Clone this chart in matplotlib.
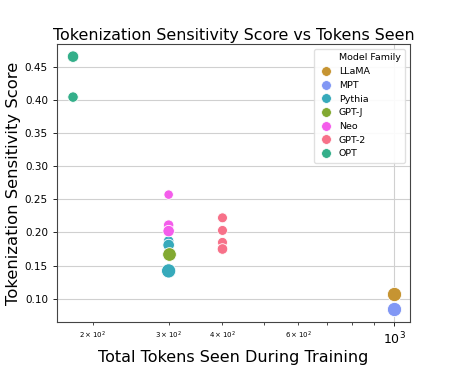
import matplotlib
matplotlib.use("Agg")
import matplotlib.pyplot as plt
from matplotlib.lines import Line2D
import seaborn as sns

families = ["LLaMA", "MPT", "Pythia", "GPT-J", "Neo", "GPT-2", "OPT"]
tokens = {
    "LLaMA": [1000],
    "MPT": [1000],
    "Pythia": [300, 300, 300, 300],
    "GPT-J": [300],
    "Neo": [300, 300, 300],
    "GPT-2": [400, 400, 400, 400],
    "OPT": [180, 180],
}
scores = {
    "LLaMA": [0.107],
    "MPT": [0.084],
    "Pythia": [0.187, 0.181, 0.139, 0.142],
    "GPT-J": [0.168],
    "Neo": [0.257, 0.211, 0.202],
    "GPT-2": [0.222, 0.203, 0.185, 0.175],
    "OPT": [0.465, 0.404],
}
# model size in billions of parameters, drives marker size
params_b = {
    "LLaMA": [7],
    "MPT": [7],
    "Pythia": [1.4, 2.8, 0.4, 12],
    "GPT-J": [6],
    "Neo": [0.125, 1.3, 2.7],
    "GPT-2": [0.7, 0.7, 0.7, 1.5],
    "OPT": [2.7, 1.3],
}

husl = sns.color_palette("husl", 7).as_hex()
colors = {
    "GPT-2": husl[0],
    "LLaMA": husl[1],
    "GPT-J": husl[2],
    "OPT": husl[3],
    "Pythia": husl[4],
    "MPT": husl[5],
    "Neo": husl[6],
}


def size_of(p):
    return 45 + 60 * min(p, 7) / 7


fig = plt.figure(figsize=(4.57, 3.66), dpi=100)
ax = fig.add_axes([0.1247, 0.1202, 0.7725, 0.7596])
for fam in families:
    ax.scatter(tokens[fam], scores[fam],
               s=[size_of(p) for p in params_b[fam]],
               color=colors[fam],
               edgecolor="white",
               linewidth=0.6,
               zorder=3)
ax.set_xscale("log")
ax.set_yticks([0.10, 0.15, 0.20, 0.25, 0.30, 0.35, 0.40, 0.45])
ax.grid(True, which="major", color="#d0d0d0", linewidth=0.8, zorder=0)
ax.tick_params(axis="y", labelsize=7.5, length=3, width=0.6)
ax.tick_params(axis="x", which="major", labelsize=9, length=3, width=0.6)
ax.tick_params(axis="x", which="minor", labelsize=5, length=2, width=0.5)
for sp in ax.spines.values():
    sp.set_color("#444444")
    sp.set_linewidth(0.8)

ax.set_title("Tokenization Sensitivity Score vs Tokens Seen",
             fontsize=11.4, pad=3)
ax.set_xlabel("Total Tokens Seen During Training", fontsize=11.5, labelpad=2)
ax.set_ylabel("Tokenization Sensitivity Score", fontsize=11.8, labelpad=3)

handles = [Line2D([], [], linestyle="none", marker="")]
labels = ["Model Family"]
for fam in families:
    handles.append(Line2D([], [], linestyle="none", marker="o",
                          markersize=7, markerfacecolor=colors[fam],
                          markeredgecolor="white", markeredgewidth=0.5))
    labels.append(fam)
ax.legend(handles, labels, loc="upper right", fontsize=6.8,
          frameon=True, framealpha=0.9, edgecolor="#dddddd",
          handletextpad=0.6, labelspacing=0.5, borderpad=0.5,
          handlelength=1.5)

fig.savefig("out.png", dpi=100)
